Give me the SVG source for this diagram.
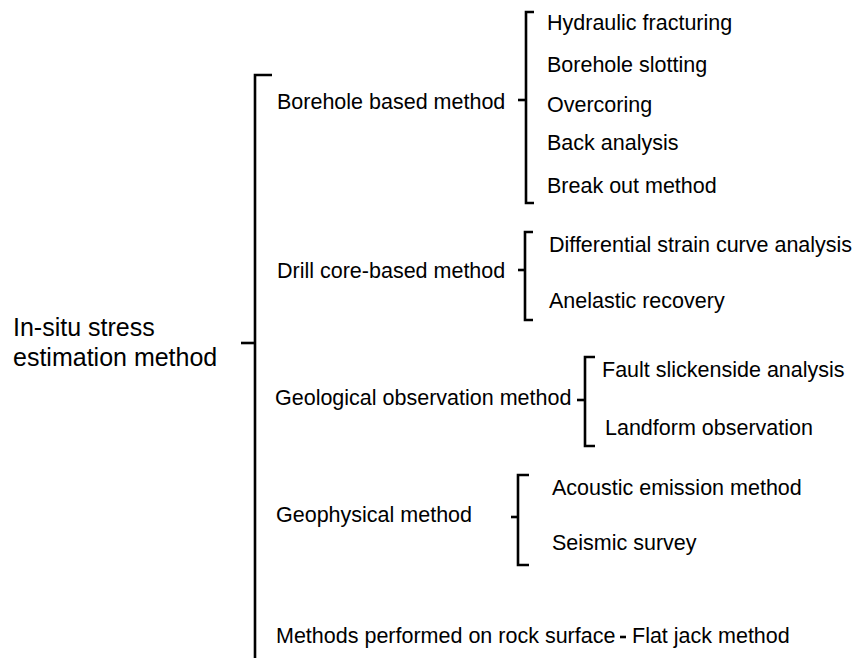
<svg xmlns="http://www.w3.org/2000/svg" width="856" height="658" viewBox="0 0 856 658">
  <style>
    text { font-family: "Liberation Sans", Arial, sans-serif; fill: #000; }
    .root { font-size: 25px; }
    .lbl { font-size: 21.5px; }
    .br { fill: none; stroke: #000; stroke-width: 2.6; stroke-linecap: butt; stroke-linejoin: miter; }
  </style>
  <rect width="856" height="658" fill="#fff"/>

  <!-- brackets and ticks -->
  <g id="connectors">
    <!-- main bracket -->
    <path class="br" d="M272,75 H255 V658"/>
    <path class="br" d="M241,343 H255"/>
    <!-- borehole group -->
    <path class="br" d="M534,12 H526 V203 H534"/>
    <path class="br" d="M518,100 H526"/>
    <!-- drill core group -->
    <path class="br" d="M533,232 H525 V320 H533"/>
    <path class="br" d="M518,270 H525"/>
    <!-- geological group -->
    <path class="br" d="M595,357 H585 V446 H595"/>
    <path class="br" d="M577,400 H585"/>
    <!-- geophysical group -->
    <path class="br" d="M529,475 H518 V565 H529"/>
    <path class="br" d="M511,517 H518"/>
    <!-- rock surface link -->
    <path class="br" d="M620,637 H626"/>
  </g>

  <g id="root">
    <text class="root" x="13" y="336">In-situ stress</text>
    <text class="root" x="13" y="366">estimation method</text>
  </g>

  <g id="borehole">
    <text class="lbl" x="277" y="109">Borehole based method</text>
  </g>
  <g id="hydraulic-fracturing"><text class="lbl" x="547" y="30">Hydraulic fracturing</text></g>
  <g id="borehole-slotting"><text class="lbl" x="547" y="72">Borehole slotting</text></g>
  <g id="overcoring"><text class="lbl" x="547" y="112">Overcoring</text></g>
  <g id="back-analysis"><text class="lbl" x="547" y="150">Back analysis</text></g>
  <g id="break-out"><text class="lbl" x="547" y="193">Break out method</text></g>

  <g id="drill-core">
    <text class="lbl" x="277" y="278">Drill core-based method</text>
  </g>
  <g id="dsca"><text class="lbl" x="549" y="252">Differential strain curve analysis</text></g>
  <g id="anelastic"><text class="lbl" x="549" y="308">Anelastic recovery</text></g>

  <g id="geological">
    <text class="lbl" x="275" y="405">Geological observation method</text>
  </g>
  <g id="fault"><text class="lbl" x="602" y="377">Fault slickenside analysis</text></g>
  <g id="landform"><text class="lbl" x="605" y="435">Landform observation</text></g>

  <g id="geophysical">
    <text class="lbl" x="276" y="522">Geophysical method</text>
  </g>
  <g id="acoustic"><text class="lbl" x="552" y="495">Acoustic emission method</text></g>
  <g id="seismic"><text class="lbl" x="552" y="550">Seismic survey</text></g>

  <g id="rock-surface">
    <text class="lbl" x="276" y="643">Methods performed on rock surface</text>
  </g>
  <g id="flat-jack"><text class="lbl" x="632" y="643">Flat jack method</text></g>
</svg>
